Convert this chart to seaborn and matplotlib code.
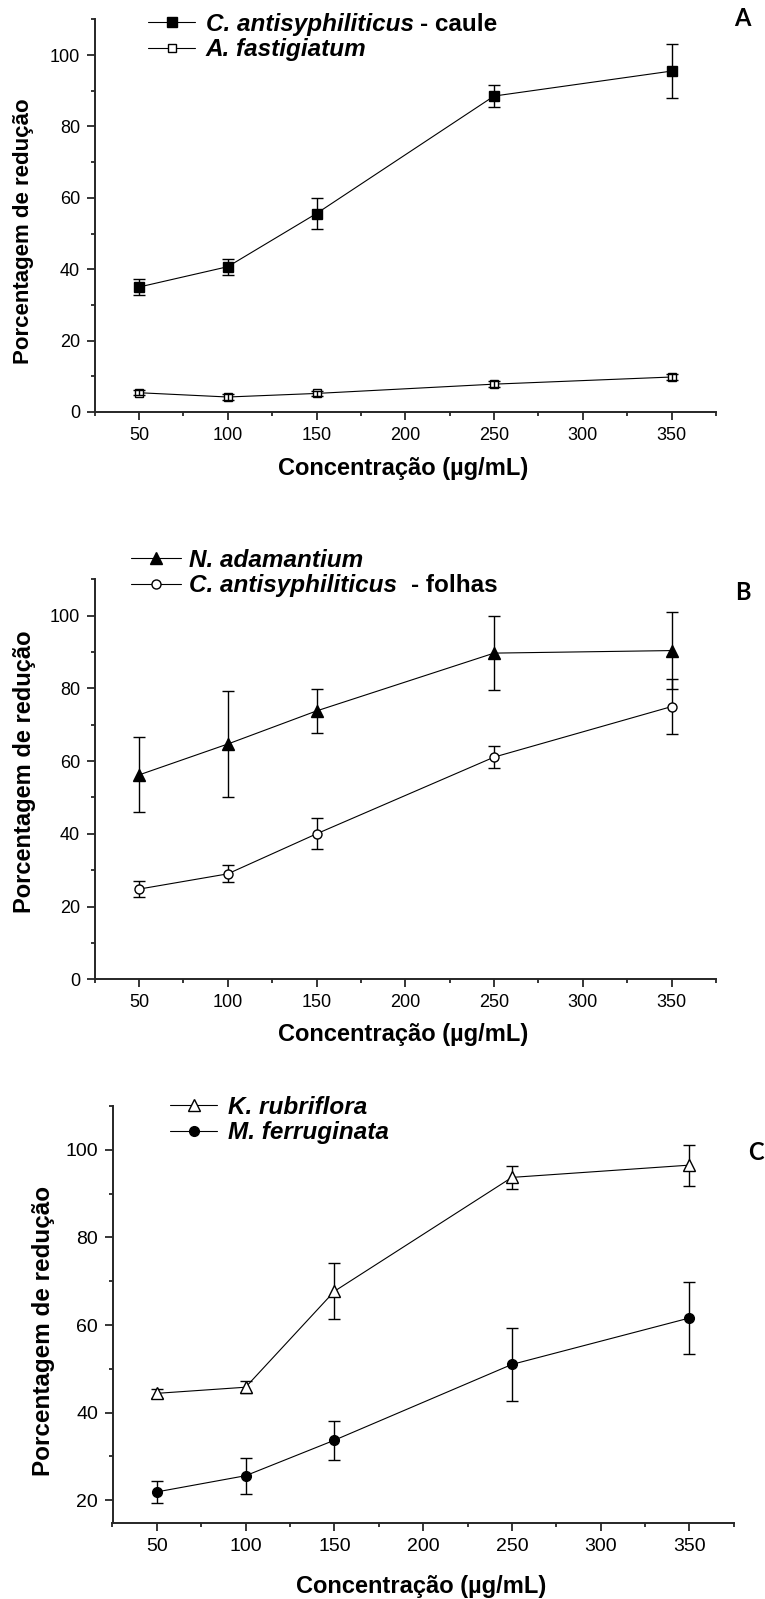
import matplotlib
matplotlib.use("Agg")
import numpy as np
import pandas as pd
import matplotlib.pyplot as plt
import seaborn as sns
from matplotlib.lines import Line2D
from matplotlib.ticker import MultipleLocator

# Concentrations tested (µg/mL)
conc = [50, 100, 150, 250, 350]

# Panel A
caule_mean = [35.0, 40.7, 55.6, 88.5, 95.5]
caule_sd = [2.2, 2.2, 4.3, 3.2, 7.5]
fastig_mean = [5.4, 4.2, 5.2, 7.8, 9.8]
fastig_sd = [0.7, 0.8, 0.6, 0.8, 0.8]

# Panel B
adam_mean = [56.2, 64.7, 73.8, 89.7, 90.4]
adam_sd = [10.3, 14.5, 6.1, 10.2, 10.6]
folhas_mean = [24.8, 29.0, 40.0, 61.1, 75.0]
folhas_sd = [2.2, 2.3, 4.3, 3.1, 7.5]

# Panel C
rubri_mean = [44.4, 45.8, 67.7, 93.7, 96.5]
rubri_sd = [1.1, 1.4, 6.35, 2.7, 4.65]
ferru_mean = [21.9, 25.6, 33.7, 51.0, 61.6]
ferru_sd = [2.6, 4.1, 4.5, 8.3, 8.25]

x_ticks = [50, 100, 150, 200, 250, 300, 350]
xlabel = "Concentração (µg/mL)"
ylabel = "Porcentagem de redução"

sns.set_theme(style="ticks")
plt.rcParams.update({
    "font.family": ["Liberation Sans", "DejaVu Sans"],
    "axes.linewidth": 1.4,
    "text.color": "black",
    "axes.labelcolor": "black",
    "xtick.color": "black",
    "ytick.color": "black",
})

W, H = 765, 1599
fig = plt.figure(figsize=(W / 100, H / 100), dpi=100)
fig.patch.set_facecolor("white")

LEG_FS = 17.5


def fx(px):
    return px / W


def fy(py):
    return 1 - py / H


def add_axes(left, right, top, bottom):
    return fig.add_axes([fx(left), fy(bottom), fx(right - left), (bottom - top) / H])


def draw_series(ax, mean, sd, marker, ms, mfc, err_on_top):
    df = pd.DataFrame({"conc": conc, "mean": mean})
    sns.lineplot(data=df, x="conc", y="mean", ax=ax, color="black", linewidth=0.8,
                 marker=marker, markersize=ms, markerfacecolor=mfc,
                 markeredgecolor="black", markeredgewidth=1.0, zorder=3)
    ax.errorbar(conc, mean, yerr=sd, fmt="none", ecolor="black", elinewidth=1.0,
                capsize=4, capthick=1.0, zorder=4 if err_on_top else 2)


def style_axes(ax, ylim, ymajor, tick_fs):
    ax.set_xlim(25, 375)
    ax.set_ylim(*ylim)
    ax.set_xticks(x_ticks)
    ax.xaxis.set_minor_locator(MultipleLocator(25))
    ax.yaxis.set_major_locator(MultipleLocator(ymajor))
    ax.yaxis.set_minor_locator(MultipleLocator(ymajor / 2))
    ax.tick_params(axis="both", which="major", direction="out", length=6, width=1.1,
                   labelsize=tick_fs, pad=4.5)
    ax.tick_params(axis="both", which="minor", direction="out", length=3, width=1.1)
    sns.despine(ax=ax)
    ax.set_facecolor("white")


def labels(ax, xl_pos, yl_pos, xl_fs, yl_fs):
    ax.set_xlabel(xlabel, fontsize=xl_fs, fontweight="bold")
    ax.set_ylabel(ylabel, fontsize=yl_fs, fontweight="bold")
    ax.xaxis.set_label_coords(fx(xl_pos[0]), fy(xl_pos[1]), transform=fig.transFigure)
    ax.yaxis.set_label_coords(fx(yl_pos[0]), fy(yl_pos[1]), transform=fig.transFigure)
    ax.xaxis.label.set_va("center")
    ax.yaxis.label.set_va("center")


suffix_jobs = []


def legend(ax, entries, anchor, handlelength, textpad, suffix_gap):
    handles = [Line2D([], [], color="black", linewidth=0.8, marker=m, markersize=ms,
                      markerfacecolor=mfc, markeredgecolor="black", markeredgewidth=1.0)
               for (m, ms, mfc, _, _) in entries]
    names = [name for (_, _, _, name, _) in entries]
    leg = ax.legend(handles, names, loc="center left",
                    bbox_to_anchor=(fx(anchor[0]), fy(anchor[1])),
                    bbox_transform=fig.transFigure, frameon=False,
                    prop={"weight": "bold", "style": "italic", "size": LEG_FS},
                    borderpad=0, borderaxespad=0, handlelength=handlelength,
                    handletextpad=textpad, labelspacing=0.12)
    for txt, (_, _, _, _, suffix) in zip(leg.get_texts(), entries):
        if suffix:
            suffix_jobs.append((txt, suffix, suffix_gap))


# ---- Panel A ----
axA = add_axes(94.6, 716, 19.3, 412)
draw_series(axA, caule_mean, caule_sd, "s", 6.5, "black", False)
draw_series(axA, fastig_mean, fastig_sd, "s", 6.0, "white", True)
style_axes(axA, (0, 110), 20, 13)
labels(axA, (403, 468), (24, 231), 17, 16)
legend(axA, [("s", 6.5, "black", "C. antisyphiliticus", "- caule"),
             ("s", 6.0, "white", "A. fastigiatum", "")],
       (148, 37), 1.95, 0.42, 6)

# ---- Panel B ----
axB = add_axes(94.6, 716, 579.3, 979.3)
draw_series(axB, adam_mean, adam_sd, "^", 8.0, "black", False)
draw_series(axB, folhas_mean, folhas_sd, "o", 6.5, "white", False)
style_axes(axB, (0, 110), 20, 13)
labels(axB, (403, 1035), (25, 772), 17, 17)
legend(axB, [("^", 8.0, "black", "N. adamantium", ""),
             ("o", 6.5, "white", "C. antisyphiliticus", "- folhas")],
       (131, 573), 2.05, 0.32, 14)

# ---- Panel C ----
axC = add_axes(112.5, 733.8, 1106, 1523)
draw_series(axC, rubri_mean, rubri_sd, "^", 8.0, "white", False)
draw_series(axC, ferru_mean, ferru_sd, "o", 7.0, "black", False)
style_axes(axC, (14.8, 110), 20, 14)
labels(axC, (421, 1587), (44, 1331), 17, 17.5)
legend(axC, [("^", 8.0, "white", "K. rubriflora", ""),
             ("o", 7.0, "black", "M. ferruginata", "")],
       (170, 1120), 1.95, 0.42, 6)

# Panel letters
for letter, (px, py) in zip(["A", "B", "C"], [(742, 19), (742.5, 593), (755.5, 1153)]):
    fig.text(fx(px), fy(py), letter, family=["Lato", "DejaVu Sans"], fontweight="bold",
             fontsize=17, ha="center", va="center")

# Upright bold suffix placed right after the italic species name in the legend
fig.canvas.draw()
renderer = fig.canvas.get_renderer()
for txt, suffix, gap in suffix_jobs:
    bb = txt.get_window_extent(renderer)
    fig.text((bb.x1 + gap) / W, bb.y0 / H, suffix, fontsize=LEG_FS, fontweight="bold",
             ha="left", va="bottom")

fig.savefig("out.png", dpi=100, facecolor="white")
